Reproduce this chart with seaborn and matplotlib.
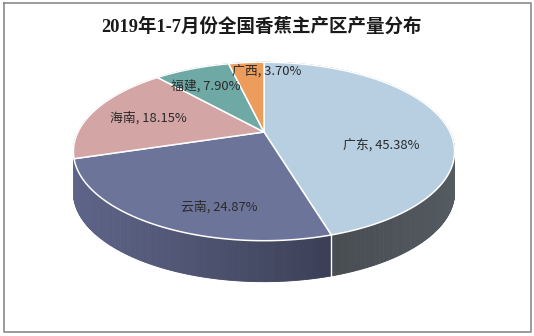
import numpy as np
import matplotlib
matplotlib.use("Agg")
import matplotlib.pyplot as plt
import matplotlib.colors as mcolors
import seaborn as sns

# ---------------- data ----------------
regions = ["广东", "云南", "海南", "福建", "广西"]
shares = [45.38, 24.87, 18.15, 7.90, 3.70]
title = "2019年1-7月份全国香蕉主产区产量分布"

# ---------------- styles ----------------
top_colors = ["#b7cfe1", "#6d749a", "#d3a5a5", "#6fa9a6", "#ec9c5b"]
side_colors = ["#596066", "#5e6488", "#9a7474", "#4f7b79", "#b07040"]
side_grad = [0.20, 0.38, 0.3, 0.3, 0.3]
label_pos = [(381, 146), (219, 207), (148, 118), (206, 86), (267, 72)]

sns.set_style("white")
plt.rcParams["font.family"] = ["Noto Sans CJK SC", "DejaVu Sans"]

W, H = 534, 336
fig = plt.figure(figsize=(W / 100, H / 100), dpi=100)
ax = fig.add_axes([0, 0, 1, 1])
ax.set_xlim(0, W)
ax.set_ylim(H, 0)
ax.axis("off")

# perspective pie geometry (screen pixels)
cx, cy = 264.0, 132.0
R, A, K = 186.0, 85.0, 0.218
DEPTH = 41.0


def proj(theta_deg, z=0.0, r=1.0):
    t = np.radians(theta_deg)
    u = r * np.sin(t)
    v = -r * np.cos(t)
    s = 1.0 / (1.0 - K * v)
    return cx + R * u * s, cy + A * v * s + z


fracs = np.array(shares) / np.sum(shares)
bounds = np.concatenate([[0], np.cumsum(fracs) * 360.0])

# side walls, painter's order (back to front)
quads = []
for i in range(len(shares)):
    a0, a1 = bounds[i], bounds[i + 1]
    n = max(2, int((a1 - a0) / 0.5))
    ths = np.linspace(a0, a1, n + 1)
    for j in range(n):
        t0, t1 = ths[j], ths[j + 1]
        tm = 0.5 * (t0 + t1)
        vm = -np.cos(np.radians(tm))
        quads.append((vm, i, t0, t1, tm))
quads.sort(key=lambda q: q[0])
for vm, i, t0, t1, tm in quads:
    x0, y0 = proj(t0)
    x1, y1 = proj(t1)
    shade = 1.0 - side_grad[i] * (1.0 - abs(np.sin(np.radians(tm - 163.0))))
    base = np.array(mcolors.to_rgb(side_colors[i]))
    col = np.clip(base * shade, 0, 1)
    ax.fill([x0, x1, x1, x0], [y0, y1, y1 + DEPTH, y0 + DEPTH],
            color=col, ec=col, lw=0.6, zorder=1)

# vertical white seams at front boundaries
for b in bounds[1:-1]:
    if -np.cos(np.radians(b)) > 0.5:
        x0, y0 = proj(b)
        ax.plot([x0, x0], [y0, y0 + DEPTH], color="white", lw=1.0, zorder=2)

# top faces
for i in range(len(shares)):
    ths = np.linspace(bounds[i], bounds[i + 1], 200)
    xs, ys = proj(ths)
    px = np.concatenate([[cx], xs, [cx]])
    py = np.concatenate([[cy], ys, [cy]])
    ax.fill(px, py, color=top_colors[i], ec="white", lw=1.1, zorder=3)

# labels
for i, (name, val) in enumerate(zip(regions, shares)):
    lx, ly = label_pos[i]
    ax.text(lx, ly, f"{name}, {val:.2f}%", ha="center", va="center",
            fontsize=9.3, color="#2a2a2a", zorder=5)

# title
ax.text(262, 27, title, ha="center", va="center", fontsize=13.3, fontweight="bold",
        color="#1a1a1a", family=["Liberation Serif", "Noto Sans CJK SC"], zorder=5)

# frame
ax.plot([3.5, 531, 531, 3.5, 3.5], [2.5, 2.5, 332, 332, 2.5],
        color="#8a8a8a", lw=1.2, zorder=6)

fig.savefig("out.png", dpi=100)
